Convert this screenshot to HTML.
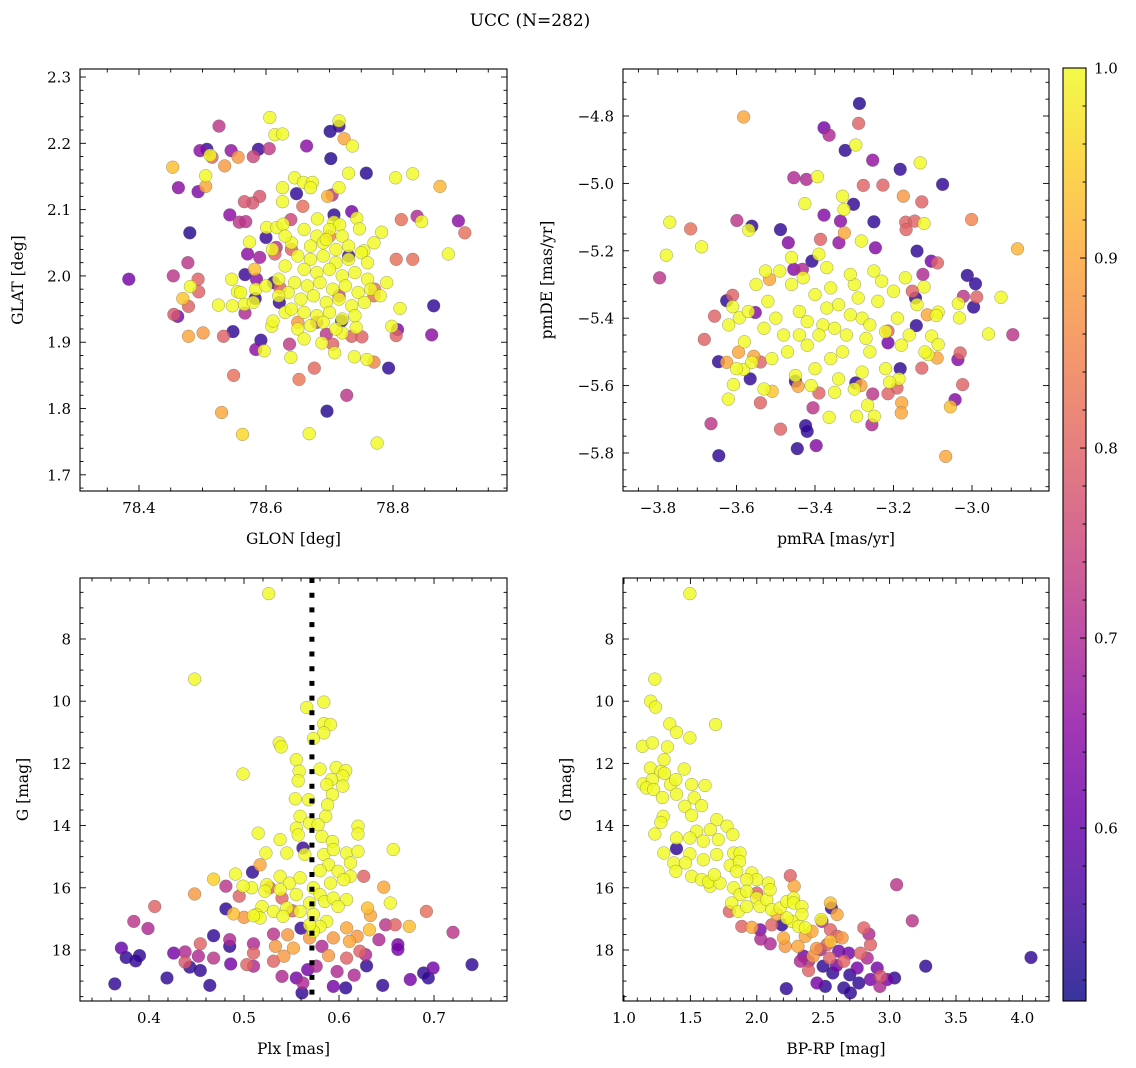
<!DOCTYPE html>
<html><head><meta charset="utf-8"><title>UCC (N=282)</title>
<style>
html,body{margin:0;padding:0;background:#fff;}
svg{display:block;font-family:"DejaVu Serif","Liberation Serif",serif;}
</style></head>
<body>
<svg id="fig" width="1136" height="1068" viewBox="0 0 1136 1068" xmlns="http://www.w3.org/2000/svg">
<text x="530" y="26" font-size="17" text-anchor="middle">UCC (N=282)</text>
</svg>
<script>
// [glon, glat, prob]
const skyPoints = [
[78.606,2.239,1],[78.715,2.234,1],[78.715,2.226,0.55],[78.701,2.218,0.53],[78.614,2.213,1],[78.626,2.214,1],
[78.526,2.226,0.72],[78.723,2.207,0.9],[78.736,2.196,1],[78.664,2.196,0.65],[78.702,2.177,0.53],[78.496,2.189,0.65],
[78.507,2.191,0.55],[78.512,2.182,1],[78.515,2.179,0.8],[78.545,2.189,0.66],[78.556,2.179,0.88],[78.58,2.18,0.75],
[78.588,2.191,0.55],[78.605,2.192,0.73],[78.535,2.166,0.88],[78.453,2.164,0.93],[78.505,2.151,1],[78.505,2.135,0.9],
[78.462,2.133,0.65],[78.493,2.127,0.63],[78.758,2.155,0.53],[78.73,2.155,1],[78.804,2.148,1],[78.831,2.154,1],
[78.874,2.135,0.92],[78.645,2.148,1],[78.659,2.141,1],[78.673,2.141,1],[78.67,2.133,1],[78.626,2.133,1],
[78.648,2.124,0.54],[78.715,2.133,1],[78.704,2.122,0.72],[78.697,2.12,0.92],[78.59,2.12,0.78],[78.579,2.11,0.78],
[78.566,2.112,0.78],[78.626,2.112,1],[78.658,2.105,0.82],[78.543,2.092,0.65],[78.558,2.081,0.72],[78.568,2.082,0.72],
[78.48,2.065,0.53],[78.6,2.058,0.55],[78.601,2.073,1],[78.617,2.073,1],[78.627,2.078,1],[78.639,2.085,0.75],
[78.681,2.086,1],[78.707,2.092,0.54],[78.707,2.081,1],[78.716,2.077,1],[78.735,2.097,0.62],[78.743,2.087,1],
[78.747,2.071,1],[78.782,2.066,1],[78.813,2.085,0.82],[78.838,2.09,0.7],[78.845,2.082,1],[78.903,2.083,0.65],
[78.913,2.065,0.82],[78.574,2.051,1],[78.616,2.043,0.72],[78.614,2.033,0.8],[78.571,2.033,0.65],[78.59,2.028,0.68],
[78.754,2.038,1],[78.805,2.025,0.82],[78.831,2.025,0.82],[78.887,2.033,1],[78.477,2.02,0.72],[78.384,1.995,0.62],
[78.454,2.0,0.72],[78.493,1.995,0.8],[78.481,1.984,1],[78.494,1.976,0.8],[78.582,2.01,0.93],[78.567,2.002,0.55],
[78.585,1.995,0.65],[78.546,1.995,1],[78.555,1.976,1],[78.56,1.975,1],[78.584,1.98,1],[78.583,1.966,0.55],
[78.612,1.99,0.55],[78.621,1.96,0.55],[78.622,1.982,0.8],[78.469,1.966,0.94],[78.478,1.954,0.8],[78.455,1.942,0.78],
[78.461,1.939,0.63],[78.525,1.956,1],[78.547,1.955,1],[78.566,1.957,1],[78.567,1.944,0.7],[78.478,1.909,0.9],
[78.501,1.914,0.88],[78.533,1.909,0.8],[78.548,1.916,0.54],[78.592,1.903,0.55],[78.584,1.889,0.65],[78.597,1.887,1],
[78.63,1.945,1],[78.609,1.924,1],[78.611,1.932,1],[78.637,1.897,0.73],[78.639,1.877,1],[78.549,1.85,0.82],
[78.53,1.794,0.9],[78.563,1.761,0.96],[78.652,1.844,0.83],[78.676,1.861,0.81],[78.668,1.762,1],[78.696,1.796,0.53],
[78.727,1.82,0.72],[78.775,1.748,1],[78.793,1.861,0.54],[78.739,1.878,1],[78.759,1.874,1],[78.77,1.87,0.85],
[78.688,1.899,1],[78.705,1.897,0.8],[78.708,1.884,1],[78.695,1.912,0.72],[78.719,1.932,0.55],[78.72,1.914,1],
[78.735,1.909,0.8],[78.751,1.908,0.8],[78.742,1.922,1],[78.798,1.924,1],[78.807,1.919,0.63],[78.805,1.91,0.8],
[78.811,1.951,1],[78.864,1.955,0.54],[78.861,1.911,0.65],[78.771,1.98,0.82],[78.77,1.97,0.82],
[78.66,2.07,1],[78.68,2.06,1],[78.70,2.07,1],[78.72,2.06,1],[78.64,2.05,1],[78.67,2.045,1],[78.69,2.05,1],[78.71,2.04,1],
[78.73,2.045,1],[78.75,2.035,1],[78.65,2.03,1],[78.67,2.025,1],[78.69,2.03,1],[78.71,2.02,1],[78.73,2.025,1],[78.63,2.015,1],
[78.66,2.01,1],[78.68,2.005,1],[78.70,2.01,1],[78.72,2.0,1],[78.74,2.005,1],[78.76,1.995,1],[78.62,1.995,1],[78.645,1.99,1],
[78.665,1.985,1],[78.685,1.99,1],[78.705,1.98,1],[78.725,1.985,1],[78.745,1.975,1],[78.765,1.98,1],[78.635,1.975,1],
[78.655,1.965,1],[78.675,1.97,1],[78.695,1.96,1],[78.715,1.965,1],[78.735,1.955,1],[78.755,1.96,1],[78.64,1.95,1],
[78.66,1.945,1],[78.68,1.94,1],[78.70,1.945,1],[78.72,1.935,1],[78.67,1.925,1],[78.69,1.93,1],[78.71,1.92,1],[78.65,1.92,1],
[78.79,1.99,1],[78.78,1.97,1],[78.62,1.97,1],[78.60,1.985,1],[78.58,1.96,1],[78.77,2.05,1],[78.66,1.905,1],[78.74,1.94,1],
[78.61,2.04,1],[78.695,2.055,1],[78.63,2.06,1],[78.76,2.02,1],
[78.64,2.04,0.8],[78.715,1.97,0.75],[78.73,2.03,0.55],[78.68,1.93,0.72],[78.65,1.93,0.88],[78.70,2.06,0.85]
];
// [pmRA, pmDE, prob]
const pmPoints = [
[-3.287,-4.763,0.53],[-3.582,-4.803,0.9],[-3.289,-4.822,0.8],[-3.377,-4.835,0.62],[-3.364,-4.857,0.7],[-3.296,-4.886,1],
[-3.323,-4.902,0.54],[-3.253,-4.931,0.66],[-3.183,-4.958,0.54],[-3.132,-4.939,1],[-3.075,-5.003,0.54],[-3.454,-4.983,0.7],
[-3.422,-4.988,0.7],[-3.394,-4.98,1],[-3.277,-5.006,0.8],[-3.227,-5.005,0.8],[-3.175,-5.038,0.88],[-3.128,-5.055,0.8],
[-3.33,-5.038,1],[-3.302,-5.062,0.54],[-3.426,-5.06,1],[-3.326,-5.077,1],[-3.377,-5.094,0.64],[-3.335,-5.112,0.65],
[-3.25,-5.114,0.54],[-3.169,-5.115,0.8],[-3.146,-5.112,0.8],[-3.168,-5.137,0.8],[-3.122,-5.119,1],[-3.001,-5.107,0.85],
[-3.77,-5.115,1],[-3.717,-5.135,0.82],[-3.689,-5.188,1],[-3.779,-5.213,1],[-3.796,-5.28,0.72],[-3.599,-5.11,0.72],
[-3.561,-5.127,0.54],[-3.569,-5.139,1],[-3.488,-5.137,0.54],[-3.468,-5.176,0.64],[-3.386,-5.166,0.8],[-3.325,-5.147,0.9],
[-3.282,-5.171,1],[-3.246,-5.191,0.64],[-3.14,-5.201,0.54],[-2.884,-5.194,0.92],[-3.339,-5.176,0.66],[-3.408,-5.231,0.54],
[-3.104,-5.231,0.62],[-3.088,-5.236,0.8],[-3.125,-5.27,0.7],[-3.012,-5.273,0.54],[-2.991,-5.298,0.54],[-2.988,-5.337,0.8],
[-3.022,-5.335,0.72],[-2.996,-5.367,0.54],[-2.926,-5.338,1],[-3.035,-5.356,1],[-3.032,-5.399,1],[-3.122,-5.307,1],
[-3.144,-5.34,0.54],[-3.152,-5.32,0.8],[-3.114,-5.39,0.9],[-3.086,-5.382,1],[-3.091,-5.392,1],[-2.958,-5.447,1],
[-2.896,-5.449,0.72],[-3.03,-5.503,0.8],[-3.036,-5.523,0.64],[-3.103,-5.453,1],[-3.086,-5.478,1],[-3.112,-5.508,1],
[-3.089,-5.518,0.9],[-3.128,-5.548,0.8],[-3.183,-5.55,0.54],[-3.186,-5.58,1],[-3.191,-5.607,0.8],[-3.214,-5.624,0.8],
[-3.024,-5.597,0.8],[-3.043,-5.642,0.64],[-3.055,-5.663,0.93],[-3.179,-5.651,0.9],[-3.18,-5.681,0.9],[-3.067,-5.81,0.9],
[-3.253,-5.625,0.72],[-3.249,-5.691,1],[-3.266,-5.658,1],[-3.255,-5.716,0.7],[-3.294,-5.691,1],[-3.364,-5.694,1],
[-3.39,-5.622,0.8],[-3.405,-5.666,0.72],[-3.424,-5.719,0.54],[-3.42,-5.736,0.54],[-3.397,-5.778,0.64],[-3.445,-5.787,0.54],
[-3.488,-5.729,0.8],[-3.539,-5.651,0.8],[-3.509,-5.617,0.94],[-3.621,-5.64,1],[-3.608,-5.597,1],[-3.665,-5.713,0.72],
[-3.645,-5.808,0.54],[-3.565,-5.58,0.54],[-3.582,-5.552,1],[-3.561,-5.531,1],[-3.539,-5.53,0.8],[-3.556,-5.513,0.9],
[-3.646,-5.529,0.54],[-3.625,-5.531,0.9],[-3.595,-5.501,0.9],[-3.682,-5.463,0.8],[-3.656,-5.394,0.8],[-3.625,-5.348,0.54],
[-3.61,-5.332,0.8],[-3.61,-5.366,1],[-3.593,-5.399,1],[-3.552,-5.383,0.64],[-3.45,-5.587,0.54],[-3.443,-5.602,0.9],
[-3.296,-5.592,0.54],[-3.283,-5.6,0.9],[-3.526,-5.26,1],[-3.516,-5.285,0.9],[-3.454,-5.255,0.64],[-3.432,-5.255,0.7],
[-3.214,-5.473,0.62],[-3.214,-5.438,0.8],[-3.142,-5.422,0.54],
[-3.52,-5.35,1],[-3.50,-5.40,1],[-3.48,-5.45,1],[-3.46,-5.30,1],[-3.44,-5.38,1],[-3.42,-5.48,1],[-3.40,-5.33,1],[-3.38,-5.42,1],
[-3.36,-5.52,1],[-3.34,-5.36,1],[-3.32,-5.45,1],[-3.30,-5.30,1],[-3.28,-5.40,1],[-3.26,-5.50,1],[-3.24,-5.35,1],[-3.22,-5.44,1],
[-3.20,-5.32,1],[-3.18,-5.48,1],[-3.43,-5.28,1],[-3.37,-5.25,1],[-3.31,-5.27,1],[-3.25,-5.26,1],[-3.40,-5.55,1],[-3.34,-5.58,1],
[-3.28,-5.56,1],[-3.45,-5.57,1],[-3.39,-5.45,1],[-3.33,-5.50,1],[-3.27,-5.46,1],[-3.53,-5.43,1],[-3.55,-5.30,1],[-3.49,-5.26,1],
[-3.57,-5.38,1],[-3.35,-5.62,1],[-3.30,-5.61,1],[-3.41,-5.60,1],[-3.22,-5.55,1],[-3.19,-5.40,1],[-3.16,-5.45,1],[-3.14,-5.36,1],
[-3.37,-5.37,1],[-3.35,-5.43,1],[-3.29,-5.34,1],[-3.42,-5.41,1],[-3.47,-5.50,1],[-3.51,-5.52,1],[-3.23,-5.29,1],[-3.39,-5.21,1],
[-3.46,-5.22,1],[-3.58,-5.47,1],[-3.60,-5.55,1],[-3.62,-5.42,1],[-3.17,-5.28,1],[-3.12,-5.50,1],[-3.31,-5.39,1],[-3.26,-5.42,1],
[-3.44,-5.45,1],[-3.36,-5.31,1],[-3.53,-5.61,1],[-3.21,-5.59,1]
];
// [Plx, G, prob]
const plxPoints = [
[0.526,6.54,1],[0.448,9.29,1],[0.584,10.03,1],[0.566,10.2,1],[0.584,10.72,1],[0.591,10.75,1],[0.584,11.02,1],[0.573,11.2,1],
[0.537,11.34,1],[0.539,11.47,1],[0.555,11.88,1],[0.499,12.34,1],[0.58,12.18,1],[0.597,12.13,1],[0.607,12.23,1],[0.604,12.41,1],
[0.592,12.52,1],[0.587,12.68,1],[0.604,12.73,1],[0.593,13.0,1],[0.588,13.33,1],[0.586,13.7,1],[0.558,12.25,1],[0.557,12.56,1],
[0.554,13.14,1],[0.568,13.17,1],[0.559,13.7,1],[0.569,13.92,1],[0.555,14.08,1],[0.557,14.3,1],[0.578,13.97,1],[0.62,14.02,1],
[0.62,14.27,1],[0.657,14.77,1],[0.515,14.24,1],[0.538,14.45,1],[0.523,14.88,1],[0.545,14.88,1],[0.562,14.72,0.55],
[0.564,14.93,1],[0.582,14.35,1],[0.593,14.51,1],[0.584,14.93,1],[0.594,14.77,1],[0.608,14.88,1],[0.62,14.83,1],[0.612,15.2,1],
[0.589,15.26,1],[0.58,15.45,1],[0.599,15.47,1],[0.612,15.63,1],[0.605,15.74,1],[0.591,15.85,1],
[0.538,15.63,1],[0.548,15.85,1],[0.559,15.68,1],[0.573,16.0,1],[0.58,16.22,1],[0.569,16.49,1],[0.585,16.44,1],[0.594,16.33,1],
[0.555,16.22,1],[0.538,16.06,1],[0.524,15.9,1],[0.519,16.6,1],[0.531,16.76,1],[0.545,16.65,1],[0.559,16.76,1],[0.573,16.86,1],
[0.587,17.08,1],[0.58,17.24,1],[0.573,17.4,1],[0.513,16.86,1],[0.517,16.97,1],[0.541,16.92,1],[0.522,16.11,1],[0.508,16.0,1],
[0.499,15.95,1],[0.608,16.38,1],[0.599,16.6,1],[0.569,17.19,1],
[0.517,15.26,0.9],[0.491,15.56,1],[0.468,15.72,0.95],[0.509,15.5,0.54],[0.481,15.95,0.72],[0.448,16.2,0.88],[0.406,16.6,0.8],
[0.384,17.08,0.72],[0.399,17.31,0.7],[0.371,17.94,0.6],[0.376,18.24,0.54],[0.39,18.18,0.54],[0.386,18.35,0.54],[0.364,19.09,0.54],
[0.419,18.9,0.54],[0.426,18.1,0.62],[0.438,18.06,0.7],[0.438,18.39,0.78],[0.443,18.55,0.54],[0.452,18.2,0.7],[0.454,18.66,0.54],
[0.454,17.8,0.8],[0.468,17.54,0.54],[0.468,18.26,0.72],[0.464,19.14,0.54],[0.481,16.68,0.54],[0.485,17.67,0.7],[0.485,17.88,0.54],
[0.486,18.45,0.62],[0.495,16.27,0.8],[0.489,16.84,0.93],[0.5,16.95,0.88],[0.51,16.9,1],[0.51,17.8,0.7],[0.51,18.1,0.8],
[0.503,18.47,0.8],[0.51,18.52,0.7],[0.531,17.49,0.72],[0.531,18.36,0.8],[0.533,17.88,0.88],[0.54,18.85,0.7],[0.552,17.94,0.9],
[0.546,17.51,0.88],[0.542,18.2,0.88],[0.555,18.9,0.62],[0.561,19.38,0.54],[0.562,19.06,0.7],[0.567,18.63,0.62],[0.551,16.74,0.8],
[0.54,16.33,0.8],[0.527,16.0,0.8],[0.576,18.52,0.7],[0.582,17.88,0.7],[0.589,18.18,0.88],[0.594,19.17,0.62],[0.598,18.69,0.7],
[0.607,19.22,0.54],[0.616,18.81,0.7],[0.608,18.26,0.8],[0.608,17.29,0.9],[0.619,17.56,0.88],[0.622,18.04,0.8],[0.628,18.15,0.7],
[0.611,17.72,0.9],[0.633,16.89,0.9],[0.63,16.65,0.93],[0.632,17.35,0.93],[0.629,18.51,0.54],[0.626,15.63,0.8],[0.642,17.67,0.7],
[0.647,15.98,0.9],[0.654,16.49,1],[0.649,17.19,0.72],[0.659,17.19,0.8],[0.674,17.24,0.93],[0.662,17.83,0.62],[0.662,17.98,0.62],
[0.646,19.14,0.54],[0.675,18.95,0.62],[0.692,16.76,0.82],[0.689,18.74,0.54],[0.694,18.9,0.54],[0.699,18.58,0.62],[0.72,17.43,0.72],
[0.74,18.47,0.54],[0.569,17.61,0.88],[0.594,17.61,0.88],[0.56,17.3,0.55]
];
// [BP-RP, G, prob]
const cmdPoints = [
[1.496,6.54,1],[1.232,9.29,1],[1.2,10.0,1],[1.237,10.19,1],[1.345,10.73,1],[1.395,11.0,1],[1.496,11.18,1],[1.69,10.75,1],
[1.139,11.45,1],[1.214,11.34,1],[1.327,11.47,1],[1.302,11.88,1],[1.199,12.15,1],[1.277,12.26,1],[1.453,12.18,1],[1.305,12.32,1],
[1.144,12.66,1],[1.214,12.52,1],[1.169,12.79,1],[1.224,12.84,1],[1.35,12.68,1],[1.39,12.52,1],[1.509,12.68,1],[1.61,12.71,1],
[1.29,13.1,1],[1.395,12.99,1],[1.529,13.11,1],[1.584,13.36,1],[1.458,13.38,1],[1.509,13.67,1],[1.295,13.7,1],[1.277,13.9,1],
[1.232,14.27,1],[1.698,13.81,1],[1.776,14.02,1],[1.819,14.29,1],[1.547,14.18,1],[1.65,14.13,1],[1.597,14.5,1],[1.496,14.4,1],
[1.71,14.45,1],[1.395,14.4,1],[1.395,14.74,0.54],[1.3,14.88,1],[1.496,14.91,1],[1.597,15.1,1],[1.698,14.93,1],[1.375,15.2,1],
[1.463,15.2,1],[1.39,15.47,1],[1.509,15.63,1],[1.584,15.74,1],[1.65,15.95,1],[1.637,15.81,1],[1.723,15.85,1],[1.68,15.58,1],
[1.826,14.88,1],[1.874,14.88,1],[1.8,15.28,1],[1.869,15.15,1],[1.849,15.47,1],[1.962,15.52,1],[2.0,15.74,1],[2.088,15.85,1],
[1.924,15.74,1],[1.826,16.0,1],[1.874,16.22,1],[1.924,16.11,1],[1.811,16.49,1],[1.861,16.76,1],[1.924,16.6,1],[2.0,16.33,1],
[2.025,16.6,1],[2.075,16.38,1],[2.113,16.7,1],[2.1,16.06,1],[2.176,16.65,1],[2.227,16.44,1],[2.277,16.33,1],[2.277,16.49,1],
[2.34,16.6,1],[2.34,16.86,1],[2.264,17.08,1],[2.315,17.24,1],[2.365,17.29,1],[2.227,16.97,1],[2.484,17.02,1],
[2.252,15.61,0.8],[2.282,15.95,0.9],[2.0,16.17,0.8],[1.793,16.76,0.8],[1.887,17.24,0.8],[1.962,17.27,0.9],[2.025,17.35,0.63],
[2.03,17.65,0.7],[2.101,17.8,0.7],[2.113,17.19,0.8],[2.151,16.86,0.9],[2.201,17.61,0.9],[2.214,17.88,0.88],[2.31,17.88,0.9],
[2.189,17.19,0.54],[2.365,17.56,0.9],[2.416,17.4,0.9],[2.554,16.49,0.93],[2.562,16.65,0.54],[2.605,16.86,0.9],[2.491,17.08,0.7],
[2.554,17.35,0.8],[2.554,17.72,0.93],[2.642,17.61,0.88],[2.605,17.56,0.8],[2.806,17.29,0.8],[2.844,17.49,0.7],[2.856,17.83,0.8],
[2.781,18.1,0.8],[2.831,18.26,0.7],[2.907,18.58,0.62],[2.932,18.85,0.78],[2.982,18.95,0.62],[3.038,18.9,0.54],[2.927,19.17,0.7],
[3.053,15.9,0.72],[3.171,17.06,0.72],[3.272,18.52,0.54],[4.065,18.24,0.54],[2.222,19.24,0.54],[2.353,18.2,0.62],[2.39,18.36,0.7],
[2.423,18.2,0.88],[2.39,18.66,0.8],[2.453,19.06,0.62],[2.499,18.52,0.54],[2.516,19.17,0.54],[2.549,18.26,0.8],[2.572,18.74,0.54],
[2.617,18.04,0.62],[2.655,18.36,0.8],[2.655,19.22,0.54],[2.705,19.38,0.54],[2.693,18.1,0.62],[2.756,18.58,0.62],[2.768,19.06,0.54],
[2.856,18.95,0.62],[2.529,17.83,0.8],[2.479,17.99,0.7],[2.328,18.36,0.7],[2.45,17.95,0.88],[2.6,18.5,0.62],[2.7,18.8,0.54]
];
const probMin = 0.509, probMax = 1.0;
const plasma = ["#0d0887","#41049d","#6a00a8","#8f0da4","#b12a90","#cc4778","#e16462","#f2844b","#fca636","#fcce25","#f0f921"];
const plxRef = 0.5715;

const NS = "http://www.w3.org/2000/svg";
const svg = document.getElementById('fig');
function mk(tag, attrs, parent){ const e=document.createElementNS(NS,tag); for(const k in attrs) e.setAttribute(k,attrs[k]); (parent||svg).appendChild(e); return e; }
function hex(h){return [parseInt(h.slice(1,3),16),parseInt(h.slice(3,5),16),parseInt(h.slice(5,7),16)];}
function cmap(p){
  let t=(p-probMin)/(probMax-probMin); t=Math.max(0,Math.min(1,t));
  const f=t*10, i=Math.min(9,Math.floor(f)), r=f-i;
  const a=hex(plasma[i]), b=hex(plasma[i+1]);
  return 'rgb('+a.map((v,k)=>Math.round(v+(b[k]-v)*r)).join(',')+')';
}
function fmt(v,dec){ const s=Math.abs(v).toFixed(dec); return (v<-1e-9?'\u2212':'')+s; }

function panel(cfg, pts){
  const [L,T,R,B]=cfg.box;
  const sx=v=>L+(v-cfg.xd[0])/(cfg.xd[1]-cfg.xd[0])*(R-L);
  const sy=cfg.yinv ? (v=>T+(v-cfg.yd[0])/(cfg.yd[1]-cfg.yd[0])*(B-T)) : (v=>B-(v-cfg.yd[0])/(cfg.yd[1]-cfg.yd[0])*(B-T));
  const g=mk('g',{});
  
  
  const clipId=cfg.name+'-clip';
  const cp=mk('clipPath',{id:clipId},g); mk('rect',{x:L,y:T,width:R-L,height:B-T},cp);
  const pg=mk('g',{'clip-path':'url(#'+clipId+')'},g);
  const sorted=pts.slice().sort((a,b)=>a[2]-b[2]);
  for(const p of sorted){
    const c=mk('circle',{cx:sx(p[0]).toFixed(1),cy:sy(p[1]).toFixed(1),r:6.4,fill:cmap(p[2]),'fill-opacity':0.82,stroke:'#555','stroke-width':0.35,'stroke-opacity':0.8},pg);
    
    
  }
  if(cfg.vline!==undefined){
    const ln=mk('line',{x1:sx(cfg.vline),x2:sx(cfg.vline),y1:T,y2:B,stroke:'#000','stroke-width':5,'stroke-dasharray':'5 9.7'},pg);
    
    
  }
  const fr=mk('rect',{x:L,y:T,width:R-L,height:B-T,fill:'none',stroke:'#000','stroke-width':1.1},g);
  
  
  const tk=mk('g',{stroke:'#000','stroke-width':0.9},g);
  const eps=1e-9;
  for(let v=Math.ceil(cfg.xd[0]/cfg.xminor-eps)*cfg.xminor; v<=cfg.xd[1]+eps; v+=cfg.xminor){
    const x=sx(v); const maj=Math.abs(v/cfg.xmajor-Math.round(v/cfg.xmajor))<1e-6; const len=maj?6:3.5;
    mk('line',{x1:x,x2:x,y1:B,y2:B-len},tk); mk('line',{x1:x,x2:x,y1:T,y2:T+len},tk);
    if(maj && x>=L-1 && x<=R+1){
      const t=mk('text',{x:x,y:B+22,'font-size':15,'text-anchor':'middle',stroke:'none'},g); t.textContent=fmt(Math.round(v/cfg.xmajor)*cfg.xmajor,cfg.xdec);
      
      
    }
  }
  for(let v=Math.ceil(Math.min(...cfg.yd)/cfg.yminor-eps)*cfg.yminor; v<=Math.max(...cfg.yd)+eps; v+=cfg.yminor){
    const y=sy(v); const maj=Math.abs(v/cfg.ymajor-Math.round(v/cfg.ymajor))<1e-6; const len=maj?6:3.5;
    mk('line',{x1:L,x2:L+len,y1:y,y2:y},tk); mk('line',{x1:R,x2:R-len,y1:y,y2:y},tk);
    if(maj && y>T+2 && y<B-2){
      const t=mk('text',{x:L-9,y:y+5.5,'font-size':15,'text-anchor':'end',stroke:'none'},g); t.textContent=fmt(Math.round(v/cfg.ymajor)*cfg.ymajor,cfg.ydec);
      
      
    }
  }
  const xl=mk('text',{x:(L+R)/2,y:B+53,'font-size':15.5,'text-anchor':'middle'},g); xl.textContent=cfg.xlabel;
  
  
  const yx=cfg.ylabx, yy=(T+B)/2;
  const yl=mk('text',{x:yx,y:yy,'font-size':15.5,'text-anchor':'middle',transform:'rotate(-90 '+yx+' '+yy+')'},g); yl.textContent=cfg.ylabel;
  
  
}

panel({name:'glon-glat-panel',box:[80,69,507,491],xd:[78.3071,78.9795],yd:[1.6756,2.3121],xmajor:0.2,xminor:0.05,ymajor:0.1,yminor:0.02,xdec:1,ydec:1,xlabel:'GLON [deg]',ylabel:'GLAT [deg]',ylabx:23},skyPoints);
panel({name:'proper-motion-panel',box:[623,69,1049,491],xd:[-3.8892,-2.8038],yd:[-5.9128,-4.6605],xmajor:0.2,xminor:0.05,ymajor:0.2,yminor:0.05,xdec:1,ydec:1,xlabel:'pmRA [mas/yr]',ylabel:'pmDE [mas/yr]',ylabx:552},pmPoints);
panel({name:'plx-g-panel',box:[80,578,507,1001],xd:[0.3274,0.7768],yd:[6.039,19.64],yinv:true,xmajor:0.1,xminor:0.02,ymajor:2,yminor:0.5,xdec:1,ydec:0,xlabel:'Plx [mas]',ylabel:'G [mag]',ylabx:28,vline:plxRef},plxPoints);
panel({name:'cmd-panel',box:[623,578,1049,1001],xd:[0.9925,4.2003],yd:[6.039,19.64],yinv:true,xmajor:0.5,xminor:0.1,ymajor:2,yminor:0.5,xdec:1,ydec:0,xlabel:'BP-RP [mag]',ylabel:'G [mag]',ylabx:571},cmdPoints);

(function(){
  const L=1063,R=1086,T=68,B=1001;
  const defs=mk('defs',{});
  const lg=mk('linearGradient',{id:'cbgrad',x1:0,y1:1,x2:0,y2:0},defs);
  plasma.forEach((c,i)=>mk('stop',{offset:(i/10),'stop-color':c},lg));
  const g=mk('g',{});
  
  
  mk('rect',{x:L,y:T,width:R-L,height:B-T,fill:'url(#cbgrad)','fill-opacity':0.82},g);
  mk('rect',{x:L,y:T,width:R-L,height:B-T,fill:'none',stroke:'#000','stroke-width':1.1},g);
  const sy=v=>B-(v-probMin)/(probMax-probMin)*(B-T);
  for(let k=Math.ceil(probMin*50);k<=50;k++){
    const v=k/50, y=sy(v), maj=(k%5===0), len=maj?6:3.5;
    mk('line',{x1:R,x2:R-len,y1:y,y2:y,stroke:'#000','stroke-width':0.9},g);
    if(maj){
      const t=mk('text',{x:R+8,y:y+5.5,'font-size':15},g); t.textContent=v.toFixed(1);
      
      
    }
  }
})();
</script>
</body></html>
